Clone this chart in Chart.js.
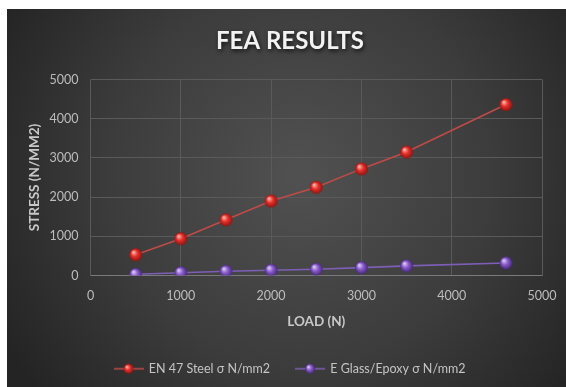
<!DOCTYPE html>
<html>
<head>
<meta charset="utf-8">
<script src="https://cdn.jsdelivr.net/npm/chart.js@4"></script>
<style>
  html, body { margin: 0; padding: 0; background: #ffffff; }
  #wrap { position: relative; width: 566px; height: 387px; }
</style>
</head>
<body>
<div id="wrap"><canvas id="chart" width="566" height="387"></canvas></div>
<script>
// Load (N) against stress for the two materials
const loads = [500, 1000, 1500, 2000, 2500, 3000, 3500, 4600];
const steelStress = [530, 940, 1420, 1900, 2250, 2720, 3150, 4360];
const glassEpoxyStress = [30, 70, 110, 135, 160, 200, 245, 320];
const seriesNames = ['EN 47 Steel σ N/mm2', 'E Glass/Epoxy σ N/mm2'];
const yTicks = [0, 1000, 2000, 3000, 4000, 5000];
const xTicks = [0, 1000, 2000, 3000, 4000, 5000];

const FONT = 'Lato, "Open Sans", sans-serif';

// Glossy sphere marker drawn on a small offscreen canvas
function sphere(r, light, mid, dark) {
  const c = document.createElement('canvas');
  const s = Math.ceil(r * 2 + 2);
  c.width = s; c.height = s;
  const g = c.getContext('2d');
  const cx = s / 2, cy = s / 2;
  const grad = g.createRadialGradient(cx - r * 0.35, cy - r * 0.4, r * 0.1, cx, cy, r);
  grad.addColorStop(0, light);
  grad.addColorStop(0.45, mid);
  grad.addColorStop(1, dark);
  g.fillStyle = grad;
  g.beginPath();
  g.arc(cx, cy, r, 0, Math.PI * 2);
  g.fill();
  return c;
}

// Legend symbol: short line with a sphere in the middle
function legendSymbol(lineColor, ball) {
  const c = document.createElement('canvas');
  c.width = 30; c.height = 14;
  const g = c.getContext('2d');
  g.strokeStyle = lineColor;
  g.lineWidth = 1.5;
  g.beginPath();
  g.moveTo(0, 7); g.lineTo(30, 7);
  g.stroke();
  g.drawImage(ball, 15 - ball.width / 2, 7 - ball.height / 2);
  return c;
}

const redBall = sphere(6.5, '#ffb0a8', '#e8302b', '#8c1512');
const purpleBall = sphere(6.5, '#d9c6f5', '#8a5ccb', '#45287a');
const redLegendBall = sphere(5, '#ffb0a8', '#e8302b', '#8c1512');
const purpleLegendBall = sphere(5, '#d9c6f5', '#8a5ccb', '#45287a');
const redLine = '#bf4b48';
const purpleLine = '#7d5fb6';
const legendIcons = [legendSymbol(redLine, redLegendBall), legendSymbol(purpleLine, purpleLegendBall)];

// Dark panel with a soft radial light behind the chart
const backdrop = {
  id: 'backdrop',
  beforeDraw(chart) {
    const ctx = chart.ctx;
    ctx.save();
    ctx.fillStyle = '#ffffff';
    ctx.fillRect(0, 0, chart.width, chart.height);
    const grad = ctx.createRadialGradient(300, 175, 10, 300, 175, 340);
    grad.addColorStop(0, '#505050');
    grad.addColorStop(0.55, '#3c3c3c');
    grad.addColorStop(1, '#242424');
    ctx.fillStyle = grad;
    ctx.fillRect(7, 9, chart.width - 7, chart.height - 9);
    ctx.restore();
  }
};

// Soft shadow under the chart title
const titleGlow = {
  id: 'titleGlow',
  beforeDraw(chart) {
    const t = chart.titleBlock;
    if (!t) return;
    const orig = t.draw;
    if (orig._glow) return;
    t.draw = function () {
      const ctx = this.ctx;
      ctx.save();
      ctx.shadowColor = 'rgba(0,0,0,0.75)';
      ctx.shadowBlur = 4;
      ctx.shadowOffsetX = 1;
      ctx.shadowOffsetY = 2;
      orig.apply(this, arguments);
      ctx.restore();
    };
    t.draw._glow = true;
  }
};

new Chart(document.getElementById('chart'), {
  type: 'line',
  data: {
    datasets: [
      {
        label: seriesNames[0],
        data: loads.map((x, i) => ({ x, y: steelStress[i] })),
        borderColor: redLine,
        borderWidth: 1.6,
        pointStyle: redBall,
        pointRadius: 6.5,
        pointHoverRadius: 6.5
      },
      {
        label: seriesNames[1],
        data: loads.map((x, i) => ({ x, y: glassEpoxyStress[i] })),
        borderColor: purpleLine,
        borderWidth: 1.6,
        pointStyle: purpleBall,
        pointRadius: 6.5,
        pointHoverRadius: 6.5
      }
    ]
  },
  options: {
    responsive: false,
    animation: false,
    layout: { padding: { left: 38, right: 24, top: 9, bottom: 2 } },
    plugins: {
      title: {
        display: true,
        text: 'FEA RESULTS',
        color: '#f2f2f2',
        font: { family: FONT, size: 24, weight: 'bold' },
        padding: { top: 17.6, bottom: 24.1 }
      },
      legend: {
        position: 'bottom',
        labels: {
          usePointStyle: true,
          pointStyleWidth: 28,
          color: '#c4c4c4',
          font: { family: FONT, size: 12.5 },
          padding: 26,
          generateLabels(chart) {
            return chart.data.datasets.map((ds, i) => ({
              text: ds.label,
              pointStyle: legendIcons[i],
              fontColor: '#c4c4c4',
              lineWidth: 0,
              strokeStyle: 'transparent',
              fillStyle: 'transparent',
              datasetIndex: i,
              hidden: false
            }));
          }
        }
      },
      tooltip: { enabled: false }
    },
    scales: {
      x: {
        type: 'linear',
        min: 0,
        max: 5000,
        afterBuildTicks(scale) { scale.ticks = xTicks.map(v => ({ value: v })); },
        afterFit(scale) { scale.height = 61; },
        grid: {
          color: '#5a5a5a',
          lineWidth: 1,
          drawTicks: true,
          tickLength: 10,
          tickColor: 'rgba(0,0,0,0)'
        },
        border: { display: false },
        ticks: {
          color: '#bdbdbd',
          font: { family: FONT, size: 12.5 },
          padding: 3,
          callback: v => String(v)
        },
        title: {
          display: true,
          text: 'LOAD (N)',
          color: '#c8c8c8',
          font: { family: FONT, size: 13.5, weight: 'bold' },
          padding: { top: 0, bottom: 7 }
        }
      },
      y: {
        type: 'linear',
        min: 0,
        max: 5000,
        afterBuildTicks(scale) { scale.ticks = yTicks.map(v => ({ value: v })); },
        afterFit(scale) { scale.width = 52.5; },
        grid: {
          color: ctx => ctx.tick && ctx.tick.value === 0 ? '#7a7a7a' : '#5a5a5a',
          lineWidth: 1,
          drawTicks: false
        },
        border: { display: false },
        ticks: {
          color: '#bdbdbd',
          font: { family: FONT, size: 12.5 },
          padding: 12,
          callback: v => String(v)
        },
        title: {
          display: true,
          text: 'STRESS (N/MM2)',
          color: '#c8c8c8',
          font: { family: FONT, size: 13.5, weight: 'bold' },
          padding: { top: -11, bottom: 0 }
        }
      }
    }
  },
  plugins: [backdrop, titleGlow]
});
</script>
</body>
</html>
